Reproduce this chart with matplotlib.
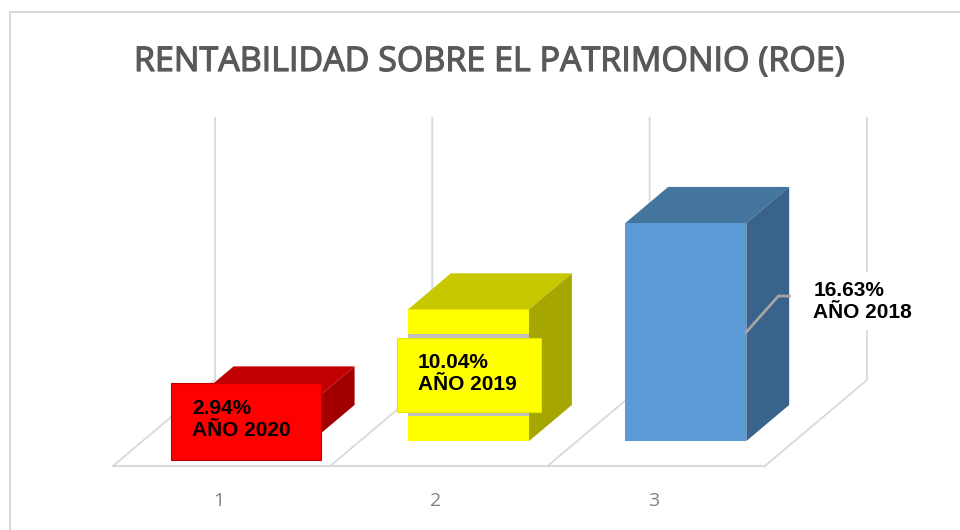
import matplotlib
matplotlib.use("Agg")
import matplotlib.pyplot as plt
import matplotlib.patheffects as pe
from matplotlib.patches import Polygon, Rectangle

# data
categories = ["1", "2", "3"]
values = [2.94, 10.04, 16.63]
labels = ["2.94%\nAÑO 2020", "10.04%\nAÑO 2019", "16.63%\nAÑO 2018"]
front_colors = ["#FF0000", "#FFFF00", "#5B9BD5"]
top_colors = ["#C00000", "#C8C800", "#44759F"]
side_colors = ["#A20000", "#A6A600", "#39638A"]
title = "RENTABILIDAD SOBRE EL PATRIMONIO (ROE)"
ymax = 20

W, H = 960, 530
fig = plt.figure(figsize=(W / 100, H / 100), dpi=100)
ax = fig.add_axes([0, 0, 1, 1])

# scale: px per category unit / per % unit
sx = 217.3
sy = 13.11
x0_px, y0_px = 113, 466          # floor front-left corner (x=0.5, y=0)
ax.set_xlim(0.5 - x0_px / sx, 0.5 + (W - x0_px) / sx)
ax.set_ylim(-(H - y0_px) / sy, y0_px / sy)
ax.axis("off")

# oblique depth vector (full floor depth)
DX = 102 / sx
DY = 86 / sy


def P(x, y, d):
    return (x + d * DX, y + d * DY)


grid = "#D9D9D9"
n = len(values)
edges = [i + 0.5 for i in range(n + 1)]

# floor / back wall lines
ax.plot([edges[0], edges[-1]], [0, 0], color=grid, lw=1.5, zorder=1)
for e in edges:
    a, b = P(e, 0, 0), P(e, 0, 1)
    c = P(e, ymax, 1)
    ax.plot([a[0], b[0], c[0]], [a[1], b[1], c[1]], color=grid, lw=1.3, zorder=1)

# bars
d1, d2 = 0.29, 0.71
w = 121 / sx
for i, v in enumerate(values):
    xc = i + 1
    xl, xr = xc - w / 2, xc + w / 2
    fx, fy = P(xc, 0, d1)
    ax.bar(fx, v, bottom=fy, width=w, color=front_colors[i], zorder=3 + i)
    top = [P(xl, v, d1), P(xr, v, d1), P(xr, v, d2), P(xl, v, d2)]
    side = [P(xr, 0, d1), P(xr, v, d1), P(xr, v, d2), P(xr, 0, d2)]
    ax.add_patch(Polygon(top, closed=True, fc=top_colors[i], ec="none", zorder=3 + i))
    ax.add_patch(Polygon(side, closed=True, fc=side_colors[i], ec="none", zorder=3 + i))

lab_font = dict(family="Liberation Sans", weight="bold", size=15, color="black")

# inside labels with fill (first two bars)
box_sizes = [(150, 77), (144, 74)]
box_shift = [-5, 0]
for i in range(2):
    v = values[i]
    cx, cy = P(i + 1, v / 2, d1)
    cx += box_shift[i] / sx
    bw, bh = box_sizes[i][0] / sx, box_sizes[i][1] / sy
    if i == 1:
        ax.add_patch(Rectangle((cx - w / 2, cy - 82 / 2 / sy), w, 82 / sy,
                               fc="#BFBFBF", ec="none", zorder=8))
    ec = "#C00000" if i == 0 else "#E6E600"
    ax.add_patch(Rectangle((cx - bw / 2, cy - bh / 2), bw, bh,
                           fc=front_colors[i], ec=ec, lw=0.8, zorder=9))
    ax.text(cx - bw / 2 + 21 / sx, cy + 2 / sy, labels[i], ha="left", va="center",
            linespacing=1.2, zorder=10, **lab_font)

# outside label with leader for the last bar
v = values[2]
ax_, ay_ = P(3 + w / 2, v / 2, d1)
px1 = (ax_ + 32 / sx, ay_ + 36 / sy)
px2 = (px1[0] + 11 / sx, px1[1])
ax.plot([ax_, px1[0], px2[0]], [ay_, px1[1], px2[1]], color="#A6A6A6", lw=2, zorder=9)
ax.text(ax_ + 67 / sx, ay_ + 31 / sy, labels[2], ha="left", va="center",
        linespacing=1.2, zorder=10,
        bbox=dict(fc="white", ec="none", pad=6), **lab_font)

# category labels
for i, c in enumerate(categories):
    ax.text(i + 1 - 3 / sx, -35 / sy, c, ha="center", va="center", family="Open Sans",
            size=14, color="#808080")

# title
fig.text(490 / W, 1 - 71 / H, title, ha="center", va="baseline",
         family="Open Sans", size=24.5, color="#595959",
         path_effects=[pe.withStroke(linewidth=0.9, foreground="#595959")])

# chart border
fig.add_artist(Rectangle((10 / W, -0.05), 1.1, 1 - 12 / H + 0.05, transform=fig.transFigure,
                         fc="none", ec="#D9D9D9", lw=1.5))

fig.savefig("out.png", dpi=100)
